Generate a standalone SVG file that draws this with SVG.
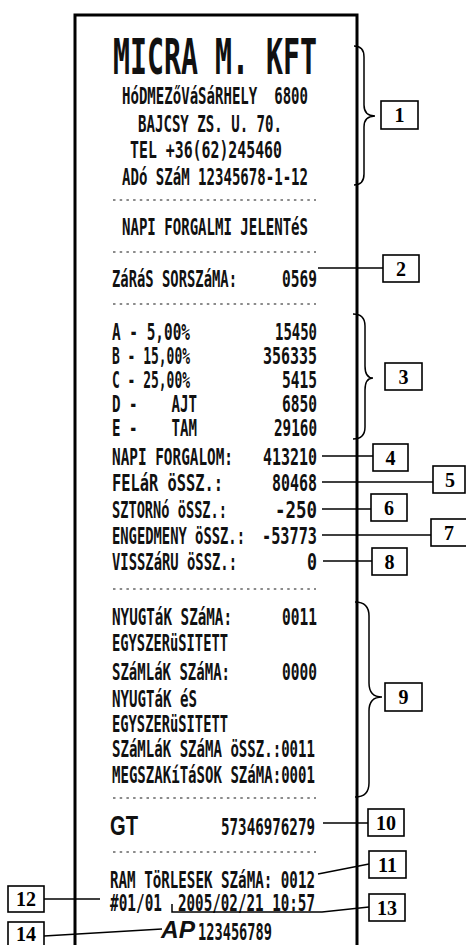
<svg xmlns="http://www.w3.org/2000/svg" width="466" height="945" viewBox="0 0 466 945">
<style>
.r{font-family:"DejaVu Sans Mono","Liberation Mono",monospace;font-size:23px;font-weight:bold;fill:#111}
.h{font-family:"DejaVu Sans Mono","Liberation Mono",monospace;font-size:50px;font-weight:bold;fill:#111}
.gt{font-family:"Liberation Sans",Arial,sans-serif;font-size:27px;font-weight:bold;fill:#111}
.ap{font-family:"Liberation Sans",Arial,sans-serif;font-size:23px;font-style:italic;font-weight:bold;fill:#111}
.frame{stroke:#000;stroke-width:3;fill:none}
.dot{stroke:#666;stroke-width:1.6;stroke-dasharray:2.5 4.2;fill:none}
.box rect{fill:#fff;stroke:#000;stroke-width:1.6}
.box text{font-family:"Liberation Serif","Times New Roman",serif;font-size:20px;font-weight:bold;fill:#000;text-anchor:middle}
.c{stroke:#000;stroke-width:1.5;fill:none}
</style>

<g id="receipt">
  <path class="frame" d="M75,945 V15 H357 V945"/>
  <g id="header">
    <text class="h" x="113" y="74" textLength="204" lengthAdjust="spacingAndGlyphs">MICRA M. KFT</text>
    <text class="r" x="122" y="104" textLength="186" lengthAdjust="spacingAndGlyphs" xml:space="preserve">HóDMEZőVáSáRHELY  6800</text>
    <text class="r" x="138" y="132" textLength="144" lengthAdjust="spacingAndGlyphs">BAJCSY ZS. U. 70.</text>
    <text class="r" x="130" y="158" textLength="152" lengthAdjust="spacingAndGlyphs">TEL +36(62)245460</text>
    <text class="r" x="122" y="185" textLength="186" lengthAdjust="spacingAndGlyphs">ADó SZáM 12345678-1-12</text>
  </g>
  <g id="dots">
    <line class="dot" x1="113" y1="200" x2="316" y2="200"/>
    <line class="dot" x1="113" y1="252" x2="316" y2="252"/>
    <line class="dot" x1="113" y1="304" x2="316" y2="304"/>
    <line class="dot" x1="113" y1="589" x2="316" y2="589"/>
    <line class="dot" x1="113" y1="798" x2="316" y2="798"/>
    <line class="dot" x1="113" y1="852" x2="316" y2="852"/>
  </g>
  <text class="r" x="122" y="235" textLength="186" lengthAdjust="spacingAndGlyphs">NAPI FORGALMI JELENTéS</text>
  <text class="r" x="112" y="287" textLength="125" lengthAdjust="spacingAndGlyphs">ZáRáS SORSZáMA:</text>
  <text class="r" x="282" y="287" textLength="35" lengthAdjust="spacingAndGlyphs">0569</text>

  <g id="vat">
    <text class="r" x="112" y="340" textLength="78" lengthAdjust="spacingAndGlyphs">A - 5,00%</text>
    <text class="r" x="275" y="340" textLength="42" lengthAdjust="spacingAndGlyphs">15450</text>
    <text class="r" x="112" y="364" textLength="78" lengthAdjust="spacingAndGlyphs">B - 15,00%</text>
    <text class="r" x="263" y="364" textLength="54" lengthAdjust="spacingAndGlyphs">356335</text>
    <text class="r" x="112" y="388" textLength="78" lengthAdjust="spacingAndGlyphs">C - 25,00%</text>
    <text class="r" x="282" y="388" textLength="35" lengthAdjust="spacingAndGlyphs">5415</text>
    <text class="r" x="112" y="412" textLength="85" lengthAdjust="spacingAndGlyphs" xml:space="preserve">D -    AJT</text>
    <text class="r" x="282" y="412" textLength="35" lengthAdjust="spacingAndGlyphs">6850</text>
    <text class="r" x="112" y="436" textLength="85" lengthAdjust="spacingAndGlyphs" xml:space="preserve">E -    TAM</text>
    <text class="r" x="274" y="436" textLength="43" lengthAdjust="spacingAndGlyphs">29160</text>
  </g>
  <g id="totals">
    <text class="r" x="112" y="465" textLength="121" lengthAdjust="spacingAndGlyphs">NAPI FORGALOM:</text>
    <text class="r" x="263" y="465" textLength="54" lengthAdjust="spacingAndGlyphs">413210</text>
    <text class="r" x="112" y="491" textLength="111" lengthAdjust="spacingAndGlyphs">FELáR öSSZ.:</text>
    <text class="r" x="272" y="491" textLength="45" lengthAdjust="spacingAndGlyphs">80468</text>
    <text class="r" x="112" y="518" textLength="115" lengthAdjust="spacingAndGlyphs">SZTORNó öSSZ.:</text>
    <text class="r" x="275" y="518" textLength="42" lengthAdjust="spacingAndGlyphs">-250</text>
    <text class="r" x="112" y="544" textLength="133" lengthAdjust="spacingAndGlyphs">ENGEDMENY öSSZ.:</text>
    <text class="r" x="262" y="544" textLength="55" lengthAdjust="spacingAndGlyphs">-53773</text>
    <text class="r" x="112" y="570" textLength="125" lengthAdjust="spacingAndGlyphs">VISSZáRU öSSZ.:</text>
    <text class="r" x="307" y="570" textLength="10" lengthAdjust="spacingAndGlyphs">0</text>
  </g>
  <g id="counts">
    <text class="r" x="112" y="625" textLength="120" lengthAdjust="spacingAndGlyphs">NYUGTáK SZáMA:</text>
    <text class="r" x="282" y="625" textLength="35" lengthAdjust="spacingAndGlyphs">0011</text>
    <text class="r" x="112" y="651" textLength="116" lengthAdjust="spacingAndGlyphs">EGYSZERüSITETT</text>
    <text class="r" x="112" y="680" textLength="118" lengthAdjust="spacingAndGlyphs">SZáMLáK SZáMA:</text>
    <text class="r" x="282" y="680" textLength="35" lengthAdjust="spacingAndGlyphs">0000</text>
    <text class="r" x="112" y="707" textLength="85" lengthAdjust="spacingAndGlyphs">NYUGTáK éS</text>
    <text class="r" x="112" y="732" textLength="116" lengthAdjust="spacingAndGlyphs">EGYSZERüSITETT</text>
    <text class="r" x="112" y="757" textLength="203" lengthAdjust="spacingAndGlyphs">SZáMLáK SZáMA öSSZ.:0011</text>
    <text class="r" x="112" y="783" textLength="203" lengthAdjust="spacingAndGlyphs">MEGSZAKíTáSOK SZáMA:0001</text>
  </g>
  <text class="gt" x="110" y="835" textLength="28" lengthAdjust="spacingAndGlyphs">GT</text>
  <text class="r" x="221" y="835" textLength="94" lengthAdjust="spacingAndGlyphs">57346976279</text>
  <text class="r" x="110" y="888" textLength="205" lengthAdjust="spacingAndGlyphs">RAM TöRLESEK SZáMA: 0012</text>
  <text class="r" x="110" y="911" textLength="52" lengthAdjust="spacingAndGlyphs">#01/01</text>
  <text class="r" x="178" y="911" textLength="137" lengthAdjust="spacingAndGlyphs">2005/02/21 10:57</text>
  <text class="ap" x="161" y="938" textLength="34" lengthAdjust="spacingAndGlyphs">AP</text>
  <text class="r" x="198" y="940" textLength="74" lengthAdjust="spacingAndGlyphs">123456789</text>
</g>

<g id="connectors">
  <path class="c" d="M354,46 Q364,46 364,57 V105 Q364,116 375,116 Q364,116 364,127 V174 Q364,185 354,185"/>
  <line class="c" x1="318" y1="268" x2="383" y2="268"/>
  <path class="c" d="M353,314 Q365,314 365,326 V366 Q365,378 373,378 Q365,378 365,390 V427 Q365,439 353,439"/>
  <line class="c" x1="322" y1="456" x2="373" y2="456"/>
  <line class="c" x1="322" y1="482" x2="433" y2="482"/>
  <line class="c" x1="322" y1="509" x2="371" y2="509"/>
  <line class="c" x1="322" y1="535" x2="431" y2="535"/>
  <line class="c" x1="323" y1="561" x2="372" y2="561"/>
  <path class="c" d="M355,602 Q369,602 369,616 V683 Q369,697 382,697 Q369,697 369,711 V783 Q369,797 355,797"/>
  <line class="c" x1="323" y1="823" x2="368" y2="823"/>
  <line class="c" x1="318" y1="874" x2="369" y2="864"/>
  <polyline class="c" points="172,904 172,912 322,912 369,907"/>
  <line class="c" x1="44" y1="899" x2="100" y2="899"/>
  <line class="c" x1="44" y1="936" x2="162" y2="929"/>
</g>

<g id="label-1" class="box"><rect x="381" y="101" width="37" height="28"/><text x="399.5" y="122">1</text></g>
<g id="label-2" class="box"><rect x="383" y="255" width="36" height="27"/><text x="401" y="276">2</text></g>
<g id="label-3" class="box"><rect x="385" y="363" width="37" height="27"/><text x="403.5" y="384">3</text></g>
<g id="label-4" class="box"><rect x="373" y="444" width="35" height="27"/><text x="390.5" y="465">4</text></g>
<g id="label-5" class="box"><rect x="433" y="466" width="32" height="27"/><text x="450" y="487">5</text></g>
<g id="label-6" class="box"><rect x="371" y="494" width="36" height="27"/><text x="389" y="515">6</text></g>
<g id="label-7" class="box"><rect x="431" y="519" width="40" height="27"/><text x="449" y="540">7</text></g>
<g id="label-8" class="box"><rect x="372" y="548" width="35" height="27"/><text x="389.5" y="569">8</text></g>
<g id="label-9" class="box"><rect x="385" y="683" width="37" height="28"/><text x="403.5" y="704">9</text></g>
<g id="label-10" class="box"><rect x="368" y="809" width="36" height="27"/><text x="386" y="830">10</text></g>
<g id="label-11" class="box"><rect x="369" y="851" width="37" height="27"/><text x="387.5" y="872">11</text></g>
<g id="label-12" class="box"><rect x="8" y="886" width="36" height="26"/><text x="26" y="906">12</text></g>
<g id="label-13" class="box"><rect x="369" y="894" width="36" height="27"/><text x="387" y="915">13</text></g>
<g id="label-14" class="box"><rect x="8" y="922" width="36" height="27"/><text x="26" y="941">14</text></g>
</svg>
